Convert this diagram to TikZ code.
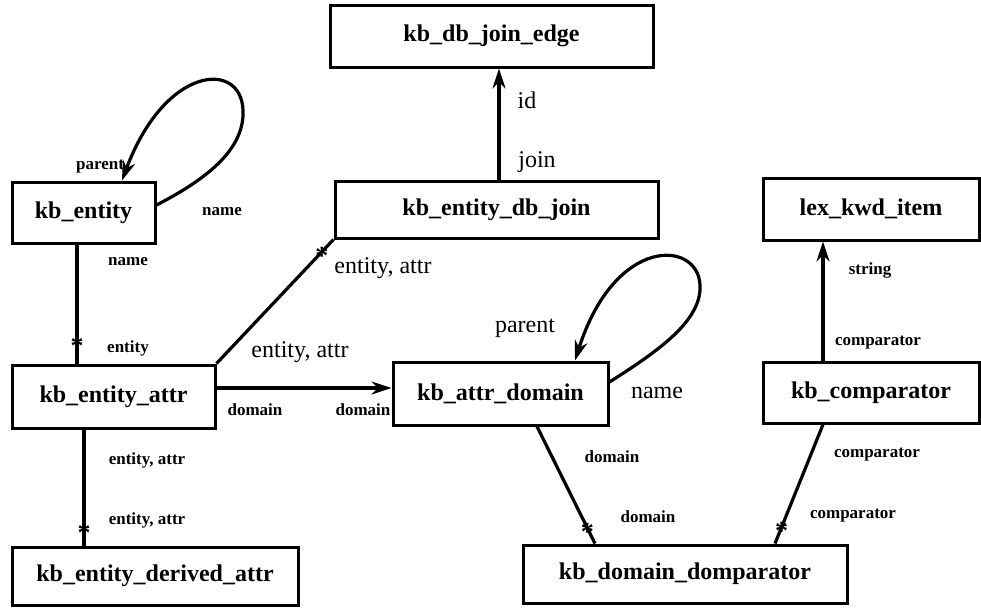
\documentclass[tikz,border=0pt]{standalone}
\usepackage{fontspec}
\setmainfont{Liberation Serif}
\usetikzlibrary{arrows.meta}
\tikzset{
  table/.style={draw, line width=1.5pt, inner sep=0pt, font=\fontsize{12}{14}\selectfont\bfseries},
  key/.style={font=\fontsize{8.5}{10}\selectfont\bfseries},
  role/.style={font=\fontsize{12}{14}\selectfont},
  many/.style={font=\fontsize{13}{14}\selectfont\bfseries, inner sep=0pt, yshift=-2pt},
  link/.style={line width=1.6pt},
  ref/.style={line width=1.6pt, -{Stealth[length=10pt,width=6.5pt]}}
}
\begin{document}
\begin{tikzpicture}[x=0.5pt,y=-0.5pt]
\useasboundingbox (0,0) rectangle (981,607);
% tables
\node[table, minimum width=161.5pt, minimum height=31pt] (dbedge) at (491.5,36) {kb\_db\_join\_edge};
\node[table, minimum width=161.5pt, minimum height=28.5pt] (dbjoin) at (496.5,209.5) {kb\_entity\_db\_join};
\node[table, minimum width=71.5pt, minimum height=30.5pt] (entity) at (83.5,212.5) {kb\_entity};
\node[table, minimum width=101.5pt, minimum height=31.5pt] (attr) at (113.5,396.5) {kb\_entity\_attr};
\node[table, minimum width=143pt, minimum height=29pt] (derived) at (155,576) {kb\_entity\_derived\_attr};
\node[table, minimum width=107.5pt, minimum height=31.5pt] (domain) at (500.5,393.5) {kb\_attr\_domain};
\node[table, minimum width=162pt, minimum height=29pt] (domparator) at (685,574) {kb\_domain\_domparator};
\node[table, minimum width=108pt, minimum height=31pt] (lexkwd) at (871,209) {lex\_kwd\_item};
\node[table, minimum width=108pt, minimum height=30.5pt] (comparator) at (871,392.5) {kb\_comparator};
% self references
\draw[ref] ([yshift=3.75pt]entity.east)
  .. controls (205,180) and (245,150) .. (243,110)
  .. controls (241,60) and (165,65) .. ([xshift=19.25pt]entity.north);
\draw[ref] ([yshift=5.75pt]domain.east)
  .. controls (660,350) and (702,320) .. (700,285)
  .. controls (698,240) and (615,235) .. ([xshift=37.25pt]domain.north);
% references
\draw[ref] ([xshift=1.25pt]dbjoin.north) coordinate (j1) -- (j1 |- dbedge.south);
\draw[ref] ([yshift=4.25pt]attr.east) coordinate (a1) -- (a1 -| domain.west);
\draw[ref] ([xshift=-24pt]comparator.north) coordinate (c1) -- (c1 |- lexkwd.south);
% one to many
\draw[link] ([xshift=-3.25pt]entity.south) coordinate (e1) -- (e1 |- attr.north) node[many, pos=0.82] (s1) {*};
\draw[link] ([xshift=-14.75pt]attr.south) coordinate (a2) -- (a2 |- derived.north) node[many, pos=0.86] (s2) {*};
\draw[link] (attr.north east) -- (dbjoin.south west) node[many, pos=0.9] (s3) {*};
\draw[link] ([xshift=18.25pt]domain.south) -- ([xshift=-45pt]domparator.north) node[many, pos=0.87] (s4) {*};
\draw[link] ([xshift=-24pt]comparator.south) -- ([xshift=45pt]domparator.north) node[many, pos=0.86] (s5) {*};
% labels
\node[key] (l1) at (100,167) {parent};
\node[key] (l2) at (222,212) {name};
\node[key] (l3) at (128,262) {name};
\node[key] (l4) at (128,348) {entity};
\node[role] (l5) at (300,352) {entity, attr};
\node[role] (l6) at (383,268) {entity, attr};
\node[role] (l7) at (527,100) {id};
\node[role] (l8) at (537,162) {join};
\node[key] (l9) at (255,410) {domain};
\node[key] (l10) at (363,410) {domain};
\node[key] (l11) at (147,460) {entity, attr};
\node[key] (l12) at (147,520) {entity, attr};
\node[role] (l13) at (525,328) {parent};
\node[role] (l14) at (657,393) {name};
\node[key] (l15) at (612,457) {domain};
\node[key] (l16) at (648,517) {domain};
\node[key] (l17) at (870,270) {string};
\node[key] (l18) at (878,343) {comparator};
\node[key] (l19) at (877,455) {comparator};
\node[key] (l20) at (853,516) {comparator};
\end{tikzpicture}
\end{document}
